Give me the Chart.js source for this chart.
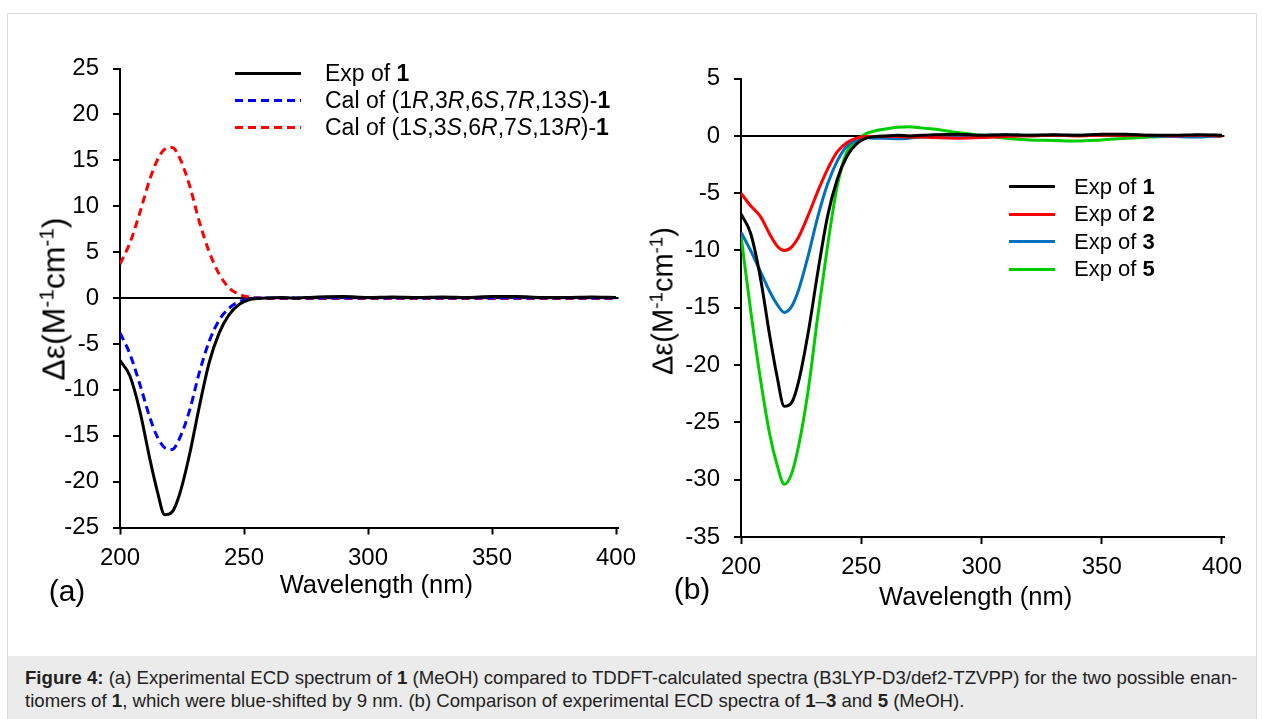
<!DOCTYPE html>
<html>
<head>
<meta charset="utf-8">
<title>ECD spectra of 1-3 and 5</title>
<script src="https://cdn.jsdelivr.net/npm/chart.js@4.4.1/dist/chart.umd.min.js"></script>
<style>
  html, body { margin: 0; padding: 0; background: #fff; }
  body {
    width: 1263px; height: 719px; position: relative; overflow: hidden;
    font-family: "Liberation Sans", Arial, sans-serif; color: #000;
  }
  .frame { position: absolute; left: 7px; top: 13px; width: 1248px; height: 720px; border: 1px solid #dcdcdc; }
  .caption-box { position: absolute; left: 8px; top: 656px; width: 1248px; height: 70px; background: #ebebeb; }
  .caption-text {
    position: absolute; left: 25px; top: 666px; font-size: 18.6px; line-height: 23px;
    color: #222; white-space: nowrap;
  }
  canvas { position: absolute; top: 0; }
  #chartA { left: 0; }
  #chartB { left: 640px; }
  .ytitle {
    position: absolute; white-space: nowrap;
    transform: translate(-50%, -50%) rotate(-90deg);
  }
  .ytitle sup { font-size: 0.65em; vertical-align: 0.55em; line-height: 0; }
  .panel-tag { position: absolute; font-size: 30px; transform: translate(-50%, -50%); }
  .legend { position: absolute; }
  .legend .row { display: flex; align-items: center; white-space: nowrap; }
  .legend .swatch { height: 3px; flex: none; }
</style>
</head>
<body>
<div class="frame"></div>
<div class="caption-box"></div>

<canvas id="chartA" width="640" height="620"></canvas>
<canvas id="chartB" width="623" height="620"></canvas>

<div class="ytitle" style="left:54px; top:299px; font-size:32px;">&Delta;&epsilon;(M<sup>-1</sup>cm<sup>-1</sup>)</div>
<div class="ytitle" style="left:663px; top:301px; font-size:29px;">&Delta;&epsilon;(M<sup>-1</sup>cm<sup>-1</sup>)</div>
<div class="panel-tag" style="left:67px; top:591px;">(a)</div>
<div class="panel-tag" style="left:692px; top:589px;">(b)</div>

<div class="legend" id="legendA" style="left:235px; top:60px; font-size:23px;"></div>
<div class="legend" id="legendB" style="left:1009px; top:173px; font-size:22px;"></div>

<div class="caption-text"><b>Figure 4:</b> (a) Experimental ECD spectrum of <b>1</b> (MeOH) compared to TDDFT-calculated spectra (B3LYP-D3/def2-TZVPP) for the two possible enan-<br>tiomers of <b>1</b>, which were blue-shifted by 9 nm. (b) Comparison of experimental ECD spectra of <b>1</b>&ndash;<b>3</b> and <b>5</b> (MeOH).</div>

<script>
// Wavelength grid (nm), denser through the 220 nm Cotton effect
const wavelength = [200, 204, 208, 212, 215, 218, 221, 224, 228, 232, 236, 240, 244, 248, 252, 256,
                    260, 265, 270, 275, 280, 290, 300, 310, 320, 330, 340, 350, 360, 370, 380, 390, 400];

// Δε values (M^-1 cm^-1)
const exp1 = [-6.8, -8.5, -12.3, -17.5, -21.0, -23.6, -23.3, -21.4, -17.1, -11.8, -7.0, -3.8, -1.8, -0.7, -0.2, -0.05,
              0, 0.05, 0, 0.05, 0.1, 0.15, 0.05, 0.1, 0.05, 0.1, 0.05, 0.15, 0.15, 0.05, 0.05, 0.1, 0.05];
const calc1R = [-3.8, -6.1, -9.4, -13.0, -15.1, -16.3, -16.5, -15.3, -12.3, -8.1, -4.7, -2.4, -1.1, -0.4, -0.1, 0,
                0, 0, 0, 0, 0, 0, 0, 0, 0, 0, 0, 0, 0, 0, 0, 0, 0];
const calc1S = [3.7, 6.0, 9.3, 12.9, 15.0, 16.2, 16.4, 15.3, 12.3, 8.3, 5.0, 2.6, 1.1, 0.4, 0.1, 0,
                -0.05, -0.05, -0.05, -0.05, -0.05, -0.05, -0.05, -0.05, -0.05, -0.05, -0.05, -0.05, -0.05, -0.05, -0.05, -0.05, -0.05];
const exp2 = [-5.0, -6.1, -7.0, -8.6, -9.6, -10.0, -9.7, -8.8, -6.9, -4.8, -2.9, -1.4, -0.6, -0.2, -0.05, -0.05,
              -0.05, -0.05, -0.1, -0.1, -0.15, -0.2, -0.15, -0.05, 0, 0.05, 0, 0.05, 0.05, 0.05, 0, 0.05, 0];
const exp3 = [-8.4, -10.0, -11.8, -13.6, -14.7, -15.4, -14.9, -13.4, -10.4, -7.0, -4.2, -2.2, -0.9, -0.35, -0.15, -0.2,
              -0.2, -0.25, -0.2, -0.1, -0.05, 0, 0.05, 0.1, 0.05, 0.05, 0.05, 0.05, 0.1, 0, -0.05, -0.1, 0];
const exp5 = [-8.7, -15.2, -21.1, -26.1, -28.7, -30.4, -29.5, -27.0, -22.1, -15.6, -9.6, -4.4, -1.4, -0.4, 0.2, 0.45,
              0.6, 0.75, 0.8, 0.7, 0.6, 0.3, 0.05, -0.2, -0.35, -0.4, -0.45, -0.35, -0.2, -0.1, 0, 0.05, 0.05];

const xTicks = [200, 250, 300, 350, 400];
const yRangeA = [-25, 25];
const yRangeB = [-35, 5];

const namesA = ['Exp of <b>1</b>',
                'Cal of (1<i>R</i>,3<i>R</i>,6<i>S</i>,7<i>R</i>,13<i>S</i>)-<b>1</b>',
                'Cal of (1<i>S</i>,3<i>S</i>,6<i>R</i>,7<i>S</i>,13<i>R</i>)-<b>1</b>'];
const namesB = ['Exp of <b>1</b>', 'Exp of <b>2</b>', 'Exp of <b>3</b>', 'Exp of <b>5</b>'];

Chart.defaults.font.family = '"Liberation Sans", Arial, sans-serif';
Chart.defaults.color = '#000';

const toPoints = ys => wavelength.map((x, i) => ({ x, y: ys[i] }));
const DASH = [8, 5];

const series = (name, ys, color, dash) => ({
    label: name.replace(/<[^>]+>/g, ''),
    data: toPoints(ys),
    borderColor: color,
    borderDash: dash ? DASH : [],
    borderWidth: 3,
    pointRadius: 0,
    cubicInterpolationMode: 'monotone',
    fill: false
});

// box: chart-area placement inside the canvas
const spectrumChart = (id, datasets, yRange, box) => new Chart(document.getElementById(id), {
    type: 'line',
    data: { datasets },
    options: {
        responsive: false,
        animation: false,
        devicePixelRatio: 1,
        layout: { padding: { top: box.top, right: box.right, bottom: box.bottom, left: 0 } },
        plugins: { legend: { display: false }, tooltip: { enabled: false } },
        scales: {
            x: {
                type: 'linear', min: 200, max: 401,
                afterBuildTicks: s => { s.ticks = xTicks.map(v => ({ value: v })); },
                afterFit: s => { s.height = box.xHeight; s.paddingLeft = 0; s.paddingRight = 0; },
                border: { color: '#000', width: 2 },
                grid: { drawOnChartArea: false, tickLength: 7, tickColor: '#000', tickWidth: 2 },
                ticks: { color: '#000', font: { size: 24 }, padding: 9, maxRotation: 0, autoSkip: false },
                title: { display: true, text: box.xTitle, color: '#000', font: { size: 25.5 }, padding: 0 }
            },
            y: {
                min: yRange[0], max: yRange[1],
                afterFit: s => { s.width = box.left; s.paddingTop = 0; s.paddingBottom = 0; },
                border: { color: '#000', width: 2 },
                grid: {
                    color: c => (c.tick && c.tick.value === 0) ? '#000' : 'rgba(0,0,0,0)',
                    lineWidth: 2, tickLength: 7, tickColor: '#000', tickWidth: 2
                },
                ticks: { stepSize: 5, color: '#000', font: { size: 24 }, padding: 14, autoSkip: false }
            }
        }
    }
});

// the padding spaces nudge each axis title off the plot centre
const chartA = spectrumChart('chartA', [
    series(namesA[0], exp1, '#000000', false),
    series(namesA[1], calc1R, '#0000ff', true),
    series(namesA[2], calc1S, '#ff0000', true)
], yRangeA, { left: 120, top: 68.5, right: 21.5, bottom: 18.7, xHeight: 73.8, xTitle: '  Wavelength (nm)' });

const chartB = spectrumChart('chartB', [
    series(namesB[0], exp1, '#000000', false),
    series(namesB[1], exp2, '#ff0000', false),
    series(namesB[2], exp3, '#0070c0', false),
    series(namesB[3], exp5, '#00cc00', false)
], yRangeB, { left: 101, top: 78.6, right: 38.6, bottom: 6.7, xHeight: 76.3, xTitle: 'Wavelength (nm)  ' });

// Legends with italic/bold label parts, swatches taken from the datasets
const buildLegend = (el, chart, names, swatchW, gap, rowH) => {
    el.innerHTML = chart.data.datasets.map((ds, i) => {
        const c = ds.borderColor;
        const bg = ds.borderDash.length
            ? `repeating-linear-gradient(to right, ${c} 0 ${ds.borderDash[0]}px, transparent ${ds.borderDash[0]}px ${ds.borderDash[0] + ds.borderDash[1]}px)`
            : c;
        return `<div class="row" style="height:${rowH}px"><span class="swatch" style="width:${swatchW}px;background:${bg};margin-right:${gap}px"></span><span>${names[i]}</span></div>`;
    }).join('');
};

buildLegend(document.getElementById('legendA'), chartA, namesA, 66, 24, 27);
buildLegend(document.getElementById('legendB'), chartB, namesB, 46, 19, 27.5);
</script>
</body>
</html>
